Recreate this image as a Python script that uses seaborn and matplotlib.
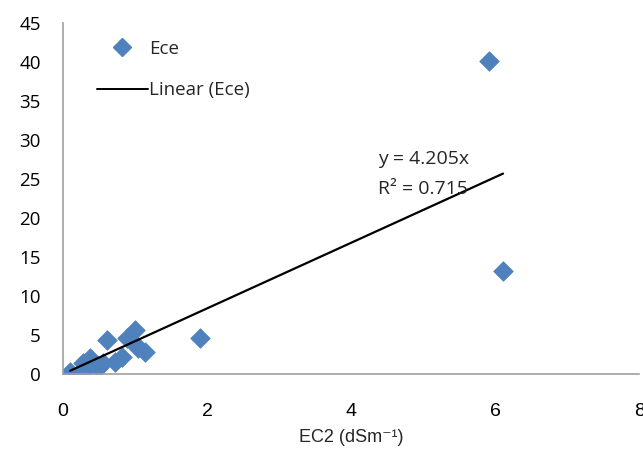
import seaborn as sns
import pandas as pd
import numpy as np
import matplotlib.pyplot as plt
from matplotlib.lines import Line2D

# values
ec2 = [0.1, 0.28, 0.3, 0.38, 0.44, 0.49, 0.56, 0.61, 0.72, 0.82, 0.89, 1.0, 0.98, 1.04, 1.14, 1.9, 5.92, 6.11]
ece = [0.3, 1.4, 0.5, 2.0, 1.2, 0.8, 1.4, 4.4, 1.5, 2.2, 4.6, 5.6, 4.0, 3.3, 2.8, 4.6, 40.1, 13.2]
slope = 4.205
r2 = 0.715

blue = '#4F81BD'

df = pd.DataFrame({'ec2': ec2, 'ece': ece})
fit_x = np.array([min(ec2), max(ec2)])
fit_df = pd.DataFrame({'ec2': fit_x, 'fit': slope * fit_x})

sns.set_theme(style='white')
plt.rcParams['font.family'] = ['Open Sans', 'DejaVu Sans']

fig = plt.figure(figsize=(6.43, 4.58), dpi=100)
ax = fig.add_axes([0.098, 0.1834, 0.896, 0.7664])

sns.scatterplot(data=df, x='ec2', y='ece', marker='D', s=100, color=blue,
                edgecolor=blue, linewidth=0.5, ax=ax, zorder=2)
sns.lineplot(data=fit_df, x='ec2', y='fit', color='black', linewidth=1.6, ax=ax, zorder=3)

ax.set_xlim(0, 8)
ax.set_ylim(0, 45)
ax.set_xticks([0, 2, 4, 6, 8])
ax.set_yticks(range(0, 50, 5))

for s in ['top', 'right']:
    ax.spines[s].set_visible(False)
for s in ['left', 'bottom']:
    ax.spines[s].set_color('#A0A0A0')
    ax.spines[s].set_linewidth(1.2)

ax.tick_params(axis='both', which='major', direction='out', length=5, width=1.2,
               color='#A0A0A0', labelcolor='black')
ax.tick_params(axis='y', labelsize=13.5, pad=11)
ax.tick_params(axis='x', labelsize=14, pad=16)
for lab in ax.get_xticklabels():
    lab.set_family('Liberation Sans')
    lab.set_fontsize(14)

ax.set_xlabel('EC2 (dSm⁻¹)', fontsize=13, family=['Liberation Sans', 'DejaVu Sans'], labelpad=6)
ax.set_ylabel('')

ax.text(4.38, 27.6, 'y = 4.205x', fontsize=14, va='center', ha='left')
ax.text(4.38, 23.7, 'R² = %.3f' % r2, fontsize=14, va='center', ha='left')

handles = [Line2D([], [], marker='D', color=blue, linestyle='none', markersize=9),
           Line2D([], [], color='black', linewidth=1.4)]
ax.legend(handles, ['Ece', 'Linear (Ece)'], loc='upper left', bbox_to_anchor=(0.03, 1.0),
          frameon=False, fontsize=13.5, handlelength=2.7, handletextpad=0.05,
          labelspacing=1.25)

fig.savefig('out.png', dpi=100)
